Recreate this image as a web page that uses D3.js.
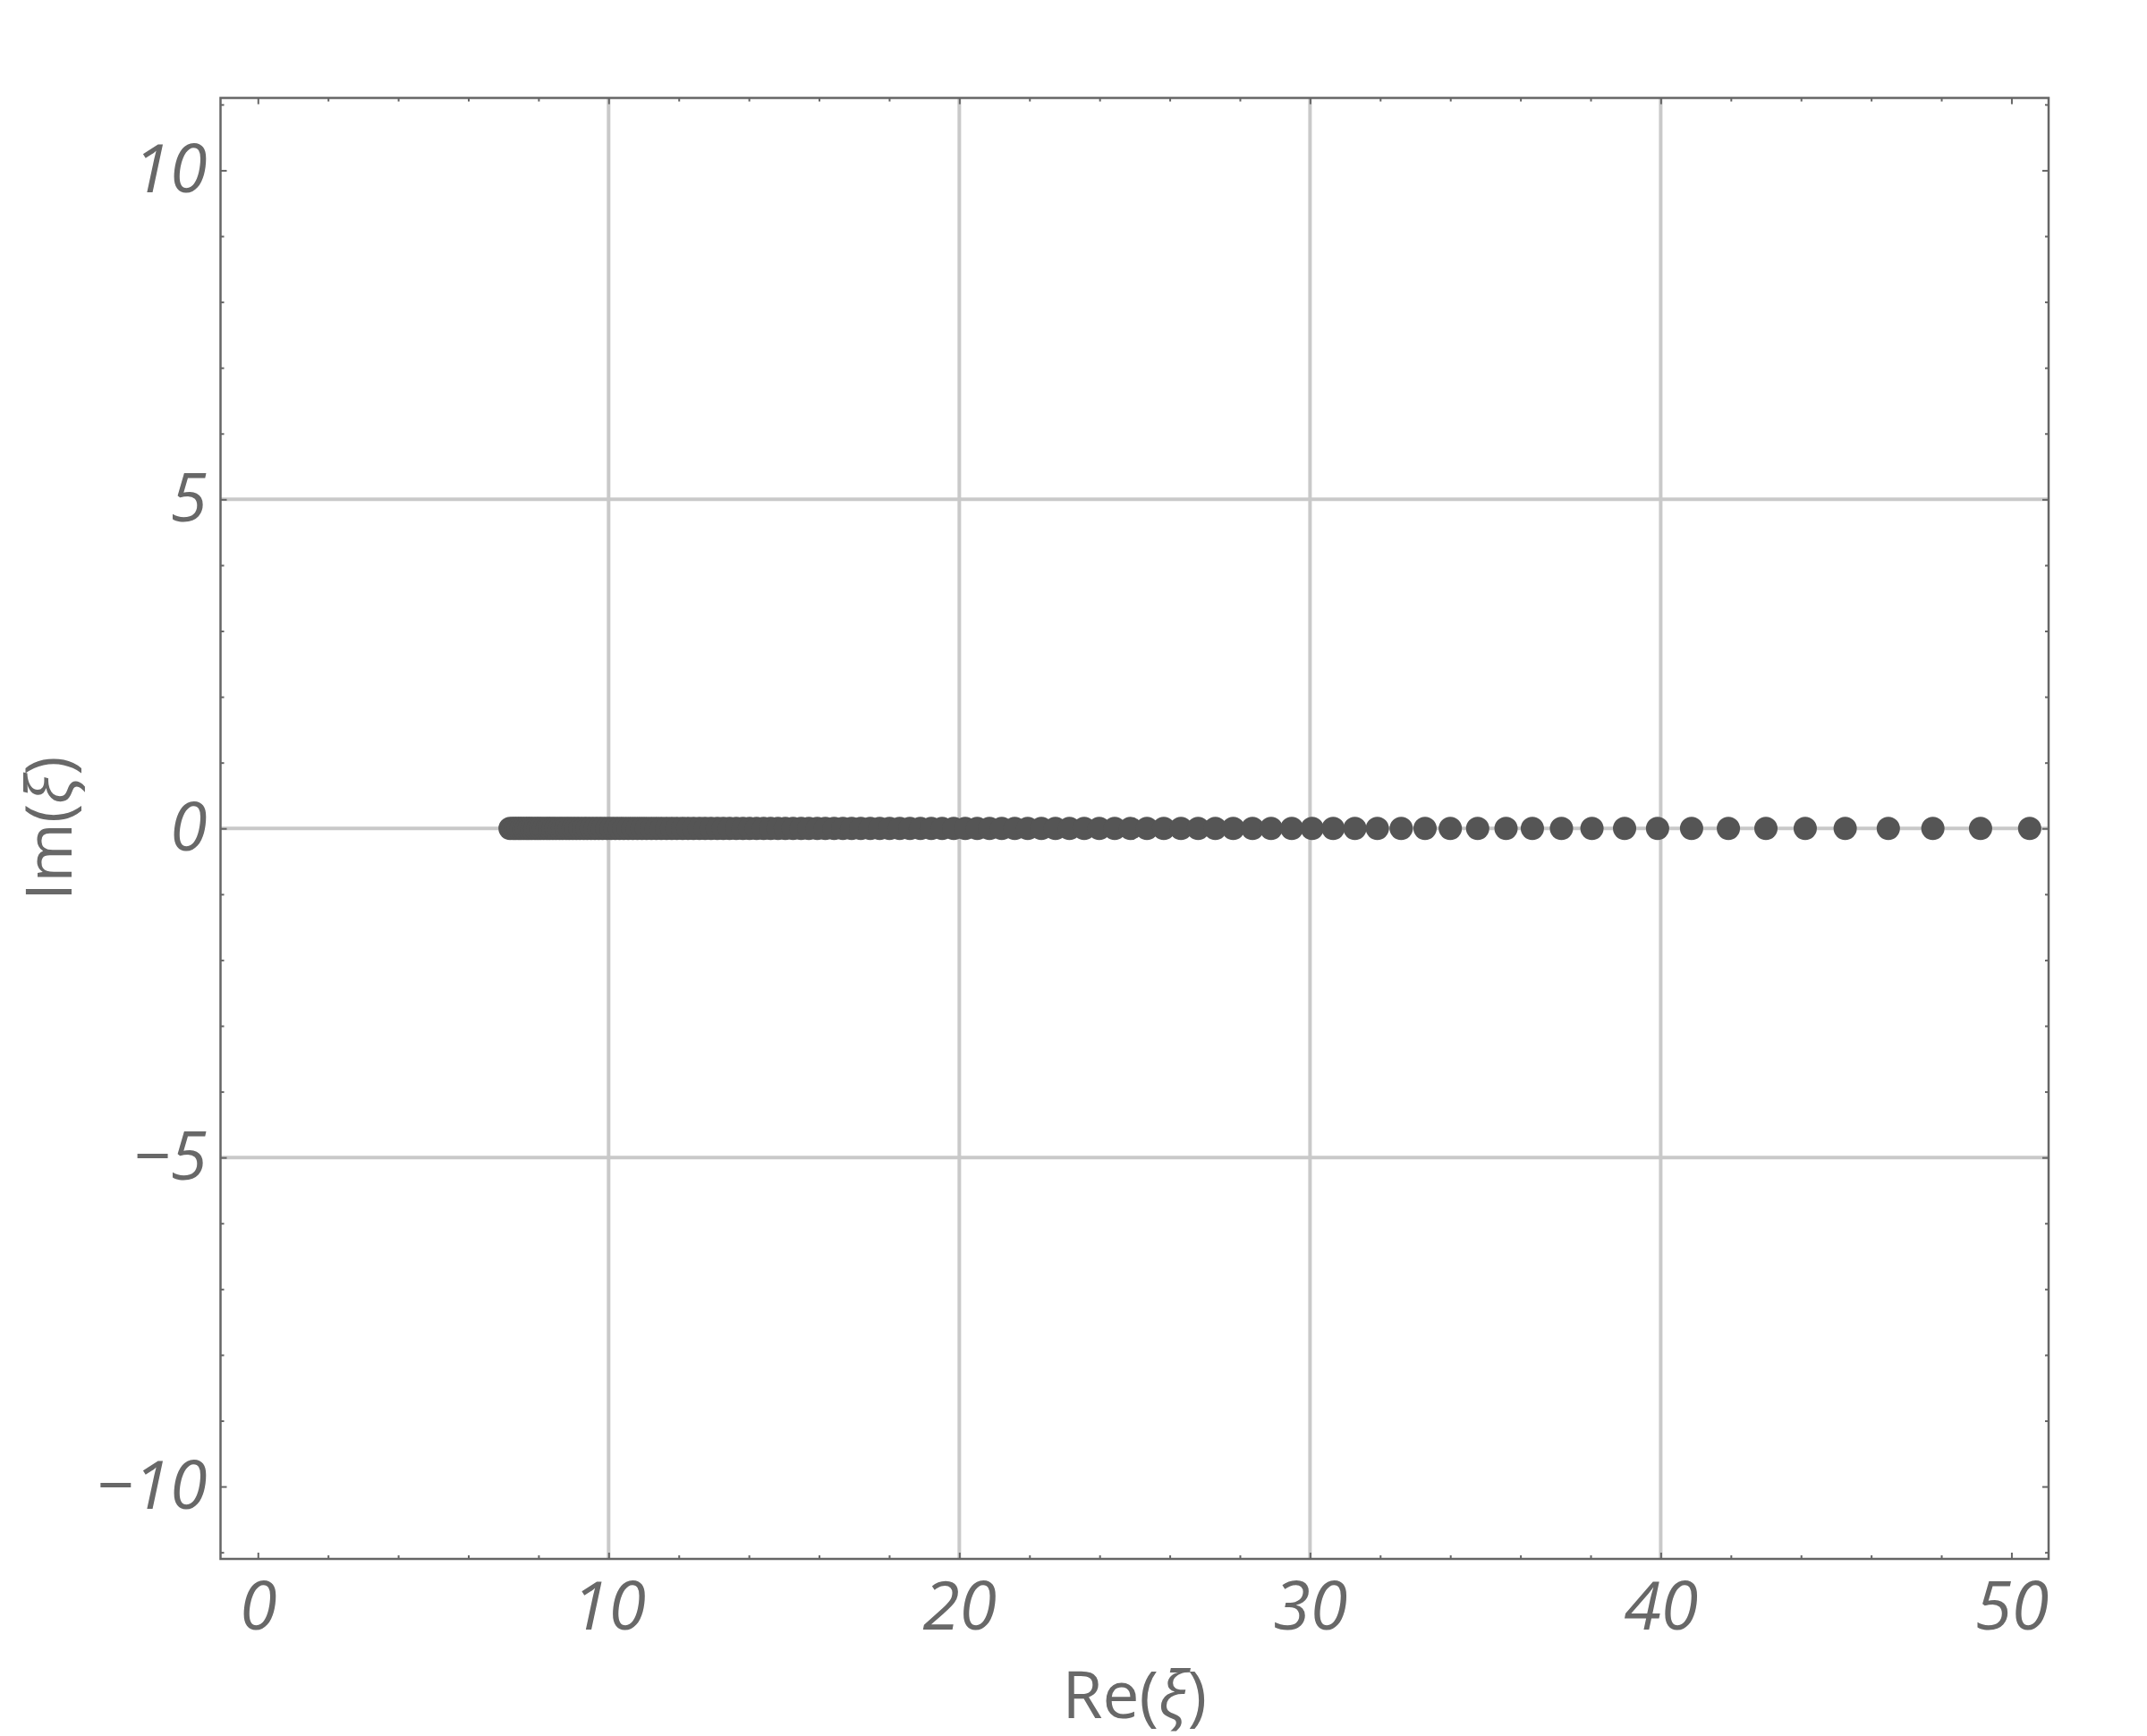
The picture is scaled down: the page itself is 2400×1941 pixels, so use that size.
<!DOCTYPE html>
<html>
<head>
<meta charset="utf-8">
<script src="https://cdn.jsdelivr.net/npm/d3@7"></script>
<style>
  body { margin: 0; background: #fff; }
  text { font-family: "Open Sans", "Noto Sans", sans-serif; fill: #686868; }
</style>
</head>
<body>
<svg id="chart"></svg>
<script>
// real parts of the eigenvalues xi (all lie on the real axis)
const reXi = [
  7.19, 7.28, 7.35, 7.43, 7.50, 7.58, 7.66, 7.73, 7.81, 7.90, 7.98, 8.06, 8.15, 8.24, 8.32, 8.41,
  8.50, 8.60, 8.69, 8.79, 8.88, 8.98, 9.08, 9.18, 9.29, 9.39, 9.50, 9.61, 9.72, 9.83, 9.95, 10.07,
  10.19, 10.31, 10.43, 10.56, 10.69, 10.82, 10.95, 11.08, 11.22, 11.36, 11.50, 11.65, 11.80, 11.95,
  12.11, 12.26, 12.42, 12.59, 12.75, 12.92, 13.10, 13.27, 13.45, 13.64, 13.83, 14.02, 14.22, 14.42,
  14.62, 14.83, 15.04, 15.26, 15.49, 15.71, 15.95, 16.18, 16.43, 16.68, 16.93, 17.19, 17.46, 17.73,
  18.01, 18.30, 18.59, 18.89, 19.20, 19.51, 19.84, 20.17, 20.51, 20.86, 21.21, 21.58, 21.95, 22.34,
  22.74, 23.14, 23.56, 23.99, 24.43, 24.88, 25.35, 25.83, 26.32, 26.81, 27.30, 27.81, 28.36, 28.89,
  29.48, 30.06, 30.66, 31.28, 31.92, 32.60, 33.28, 34.00, 34.78, 35.59, 36.34, 37.17, 38.04, 38.97,
  39.91, 40.88, 41.93, 43.00, 44.12, 45.26, 46.49, 47.76, 49.12, 50.52
];
// imaginary parts
const imXi = [
  0,0,0,0,0,0,0,0,0,0,0,0,0,0,0,0, 0,0,0,0,0,0,0,0,0,0,0,0,0,0,0,0,
  0,0,0,0,0,0,0,0,0,0,0,0,0,0, 0,0,0,0,0,0,0,0,0,0,0,0,0,0,
  0,0,0,0,0,0,0,0,0,0,0,0,0,0, 0,0,0,0,0,0,0,0,0,0,0,0,0,0,
  0,0,0,0,0,0,0,0,0,0,0,0,0,0, 0,0,0,0,0,0,0,0,0,0,0,0,0,0,
  0,0,0,0,0,0,0,0,0,0
];

const xMajor = [0, 10, 20, 30, 40, 50];
const xMinor = [2, 4, 6, 8, 12, 14, 16, 18, 22, 24, 26, 28, 32, 34, 36, 38, 42, 44, 46, 48];
const yMajor = [-10, -5, 0, 5, 10];
const yMinor = [-11, -9, -8, -7, -6, -4, -3, -2, -1, 1, 2, 3, 4, 6, 7, 8, 9, 11];
const xGrid = [10, 20, 30, 40];
const yGrid = [-5, 0, 5];

const W = 2400, H = 1941;
const plotL = 246.5, plotR = 2290, plotT = 109.5, plotB = 1743;

const svg = d3.select('#chart')
  .attr('width', W)
  .attr('height', H)

svg.append('rect').attr('width', W).attr('height', H).attr('fill', '#fff')

const x = d3.scaleLinear().domain([-1.066, 51.06]).range([plotL, plotR])
const y = d3.scaleLinear().domain([-11.1, 11.1]).range([plotB, plotT])

// grid
svg.append('g').selectAll('line')
  .data(xGrid)
  .join('line')
  .attr('x1', d => x(d)).attr('x2', d => x(d))
  .attr('y1', plotT).attr('y2', plotB)
  .attr('stroke', '#c9c9c9').attr('stroke-width', 4)
svg.append('g').selectAll('line')
  .data(yGrid)
  .join('line')
  .attr('y1', d => y(d)).attr('y2', d => y(d))
  .attr('x1', plotL).attr('x2', plotR)
  .attr('stroke', '#c9c9c9').attr('stroke-width', 4)

// points
svg.append('g').selectAll('circle')
  .data(reXi)
  .join('circle')
  .attr('cx', d => x(d))
  .attr('cy', (d, i) => y(imXi[i]))
  .attr('r', 13)
  .attr('fill', '#555555')

// axes with inward ticks
const fontSize = 75;
const styleAxis = g => {
  g.select('.domain').remove()
  g.selectAll('.tick line').attr('stroke', '#666').attr('stroke-width', 2)
  g.selectAll('.tick text')
    .attr('fill', '#686868')
    .style('font-size', fontSize + 'px')
    .style('font-style', 'italic')
    .style('font-family', '"Open Sans", "Noto Sans", sans-serif')
}

svg.append('g')
  .attr('transform', `translate(0,${plotB})`)
  .call(d3.axisBottom(x).tickValues(xMajor).tickSize(-7).tickPadding(26))
  .call(styleAxis)
svg.append('g')
  .attr('transform', `translate(0,${plotB})`)
  .call(d3.axisBottom(x).tickValues(xMinor).tickSize(-4).tickFormat(''))
  .call(styleAxis)
svg.append('g')
  .attr('transform', `translate(0,${plotT})`)
  .call(d3.axisTop(x).tickValues(xMajor).tickSize(-7).tickFormat(''))
  .call(styleAxis)
svg.append('g')
  .attr('transform', `translate(0,${plotT})`)
  .call(d3.axisTop(x).tickValues(xMinor).tickSize(-4).tickFormat(''))
  .call(styleAxis)

svg.append('g')
  .attr('transform', `translate(${plotL},0)`)
  .call(d3.axisLeft(y).tickValues(yMajor).tickSize(-7).tickPadding(15))
  .call(styleAxis)
svg.append('g')
  .attr('transform', `translate(${plotL},0)`)
  .call(d3.axisLeft(y).tickValues(yMinor).tickSize(-4).tickFormat(''))
  .call(styleAxis)
svg.append('g')
  .attr('transform', `translate(${plotR},0)`)
  .call(d3.axisRight(y).tickValues(yMajor).tickSize(-7).tickFormat(''))
  .call(styleAxis)
svg.append('g')
  .attr('transform', `translate(${plotR},0)`)
  .call(d3.axisRight(y).tickValues(yMinor).tickSize(-4).tickFormat(''))
  .call(styleAxis)

// frame
svg.append('rect')
  .attr('x', plotL).attr('y', plotT)
  .attr('width', plotR - plotL).attr('height', plotB - plotT)
  .attr('fill', 'none')
  .attr('stroke', '#666').attr('stroke-width', 2.5)

// axis titles, xi in italics
const title = (sel, name) => {
  sel.append('tspan').text(name + '(')
  sel.append('tspan').style('font-style', 'italic').text('ξ')
  sel.append('tspan').text(')')
}

svg.append('text')
  .attr('x', (plotL + plotR) / 2)
  .attr('y', 1921)
  .attr('text-anchor', 'middle')
  .style('font-size', '73px')
  .call(title, 'Re')

svg.append('text')
  .attr('transform', `translate(80,${(plotT + plotB) / 2}) rotate(-90)`)
  .attr('text-anchor', 'middle')
  .style('font-size', '72px')
  .call(title, 'Im')
</script>
</body>
</html>
